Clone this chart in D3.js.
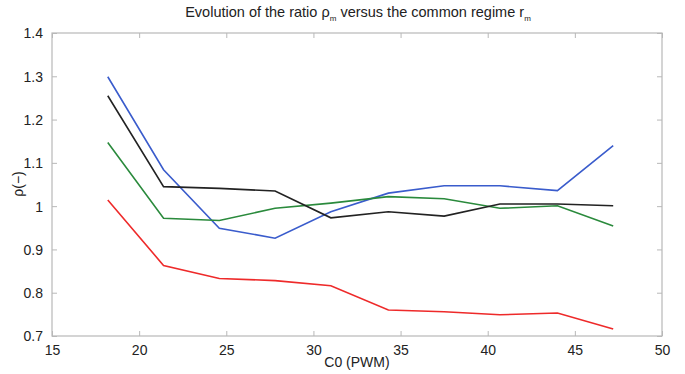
<!DOCTYPE html>
<html><head><meta charset="utf-8">
<script src="https://cdn.jsdelivr.net/npm/d3@7/dist/d3.min.js"></script>
<style>body{margin:0;background:#fff}svg{display:block}text{font-family:"Liberation Sans",Arial,sans-serif;fill:#222}</style>
</head><body><svg id="c" width="685" height="374"></svg>
<script>
const xValues = [18.2, 21.4, 24.6, 27.8, 31.0, 34.3, 37.5, 40.7, 44.0, 47.2];
const blue  = [1.299, 1.084, 0.949, 0.926, 0.987, 1.030, 1.047, 1.047, 1.036, 1.140];
const black = [1.255, 1.045, 1.041, 1.035, 0.973, 0.987, 0.977, 1.005, 1.005, 1.001];
const green = [1.147, 0.972, 0.967, 0.995, 1.007, 1.022, 1.017, 0.995, 1.001, 0.954];
const red   = [1.014, 0.863, 0.833, 0.828, 0.816, 0.760, 0.756, 0.749, 0.753, 0.716];
const xTicks = [15, 20, 25, 30, 35, 40, 45, 50];
const yTicks = [0.7, 0.8, 0.9, 1.0, 1.1, 1.2, 1.3, 1.4];
const seriesNames = ["blue", "green", "black", "red"];
const seriesColors = ["#3a5ccc", "#2a8a3c", "#222222", "#ee2a2a"];

const svg = d3.select("#c");
const L = 52, R = 662, T = 33, B = 336;
const x = d3.scaleLinear().domain([15, 50]).range([L, R]);
const y = d3.scaleLinear().domain([0.7, 1.4]).range([B, T]);
const axisCol = "#b8b8b8";

// box
svg.append("rect").attr("x", L).attr("y", T).attr("width", R - L).attr("height", B - T)
  .attr("fill", "none").attr("stroke", axisCol).attr("stroke-width", 1.2);

const fmtY = d => d === 1 ? "1" : d3.format(".1f")(d);

const gx = svg.append("g").attr("transform", `translate(0,${B})`)
  .call(d3.axisBottom(x).tickValues(xTicks).tickSize(-5).tickPadding(9).tickFormat(d3.format("d")));
const gxt = svg.append("g").attr("transform", `translate(0,${T})`)
  .call(d3.axisTop(x).tickValues(xTicks).tickSize(-5).tickFormat(""));
const gy = svg.append("g").attr("transform", `translate(${L},0)`)
  .call(d3.axisLeft(y).tickValues(yTicks).tickSize(-5).tickPadding(9).tickFormat(fmtY));
const gyr = svg.append("g").attr("transform", `translate(${R},0)`)
  .call(d3.axisRight(y).tickValues(yTicks).tickSize(-5).tickFormat(""));
[gx, gxt, gy, gyr].forEach(g => {
  g.select(".domain").remove();
  g.selectAll(".tick line").attr("stroke", axisCol);
  g.selectAll("text").style("font-size", "14px").attr("fill", "#222");
});
gy.selectAll(".tick text").attr("dy", "0.35em");

const data = {blue, green, black, red};
const line = d3.line().x((d, i) => x(xValues[i])).y(d => y(d));
seriesNames.forEach((n, k) => {
  svg.append("path").datum(data[n]).attr("d", line)
    .attr("fill", "none").attr("stroke", seriesColors[k]).attr("stroke-width", 1.6);
});

// title
const title = svg.append("text").attr("x", 358).attr("y", 17).attr("text-anchor", "middle")
  .style("font-size", "14.5px");
title.append("tspan").text("Evolution of the ratio ρ");
title.append("tspan").attr("dy", 4).style("font-size", "8px").text("m");
title.append("tspan").attr("dy", -4).text(" versus the common regime r");
title.append("tspan").attr("dy", 4).style("font-size", "8px").text("m");

// axis labels
svg.append("text").attr("x", 357).attr("y", 367).attr("text-anchor", "middle")
  .style("font-size", "14px").text("C0 (PWM)");
svg.append("text").attr("transform", "translate(23,184) rotate(-90)").attr("text-anchor", "middle")
  .style("font-size", "14px").text("ρ(−)");
</script></body></html>
